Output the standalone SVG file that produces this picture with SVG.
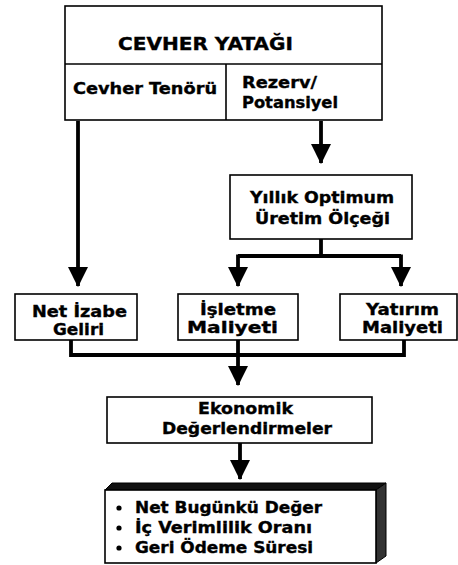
<svg xmlns="http://www.w3.org/2000/svg" width="458" height="565" viewBox="0 0 458 565">
<defs>
<style>
.box{fill:#fff;stroke:#000;stroke-width:1.6}
.t{font-family:"DejaVu Sans","Liberation Sans",sans-serif;font-weight:bold;font-size:15px;fill:#000;stroke:#000;stroke-width:0.35}
.big{font-size:17px}
.c{fill:none;stroke:#000;stroke-width:3.8}
</style>
<marker id="ah" markerUnits="userSpaceOnUse" markerWidth="20" markerHeight="20" refX="17" refY="9" orient="auto" viewBox="0 0 18 18">
<path d="M0,0 L18,9 L0,18 Z" fill="#000"/>
</marker>
</defs>
<rect width="458" height="565" fill="#fff"/>
<g id="connectors">
<line class="c" x1="78" y1="121" x2="78" y2="286" marker-end="url(#ah)"/>
<line class="c" x1="321" y1="121" x2="321" y2="163" marker-end="url(#ah)"/>
<polyline class="c" points="321,239 321,256"/>
<polyline class="c" points="238,256 401,256"/>
<line class="c" x1="238" y1="254.5" x2="238" y2="286" marker-end="url(#ah)"/>
<line class="c" x1="401" y1="254.5" x2="401" y2="286" marker-end="url(#ah)"/>
<polyline class="c" points="71,340 71,355 404,355 404,340"/>
<line class="c" x1="238" y1="340" x2="238" y2="385" marker-end="url(#ah)"/>
<line class="c" x1="240" y1="443" x2="240" y2="479" marker-end="url(#ah)"/>
</g>
<g id="cevher-yatagi">
<rect class="box" x="65" y="6" width="317" height="114"/>
<line stroke="#000" stroke-width="1.6" x1="65" y1="64" x2="382" y2="64"/>
<text class="t big" x="118" y="50" textLength="175" lengthAdjust="spacingAndGlyphs">CEVHER YATAĞI</text>
</g>
<g id="cevher-tenoru">
<line stroke="#000" stroke-width="1.6" x1="226" y1="64" x2="226" y2="120"/>
<text class="t" x="73" y="94" textLength="144" lengthAdjust="spacingAndGlyphs">Cevher Tenörü</text>
</g>
<g id="rezerv">
<text class="t" x="242" y="88" textLength="75" lengthAdjust="spacingAndGlyphs">Rezerv/</text>
<text class="t" x="242" y="108" textLength="96" lengthAdjust="spacingAndGlyphs">Potansiyel</text>
</g>
<g id="yillik">
<rect class="box" x="230" y="175" width="182" height="64"/>
<text class="t" x="250" y="203" textLength="144" lengthAdjust="spacingAndGlyphs">Yıllık Optimum</text>
<text class="t" x="255" y="224" textLength="135" lengthAdjust="spacingAndGlyphs">Üretim Ölçeği</text>
</g>
<g id="net-izabe">
<rect class="box" x="15" y="294" width="122" height="46"/>
<text class="t" x="32" y="317" textLength="95" lengthAdjust="spacingAndGlyphs">Net İzabe</text>
<text class="t" x="53" y="335" textLength="51" lengthAdjust="spacingAndGlyphs">Geliri</text>
</g>
<g id="isletme">
<rect class="box" x="178" y="294" width="120" height="46"/>
<text class="t" x="200" y="315" textLength="76" lengthAdjust="spacingAndGlyphs">İşletme</text>
<text class="t" x="187" y="333" textLength="91" lengthAdjust="spacingAndGlyphs">Maliyeti</text>
</g>
<g id="yatirim">
<rect class="box" x="340" y="294" width="117" height="46"/>
<text class="t" x="366" y="315" textLength="73" lengthAdjust="spacingAndGlyphs">Yatırım</text>
<text class="t" x="362" y="333" textLength="81" lengthAdjust="spacingAndGlyphs">Maliyeti</text>
</g>
<g id="ekonomik">
<rect class="box" x="107" y="397" width="265" height="46"/>
<text class="t" x="198" y="414" textLength="95" lengthAdjust="spacingAndGlyphs">Ekonomik</text>
<text class="t" x="162" y="434" textLength="170" lengthAdjust="spacingAndGlyphs">Değerlendirmeler</text>
</g>
<g id="sonuclar">
<polygon points="105,490 112,483 386,483 376,490" fill="#111" stroke="#000" stroke-width="1"/>
<polygon points="376,490 386,483 386,556 376,563" fill="#333" stroke="#000" stroke-width="1"/>
<rect class="box" x="105" y="490" width="271" height="73"/>
<circle cx="119" cy="508" r="2.6" fill="#000"/>
<circle cx="119" cy="528" r="2.6" fill="#000"/>
<circle cx="119" cy="548" r="2.6" fill="#000"/>
<text class="t" x="135" y="513" textLength="187" lengthAdjust="spacingAndGlyphs">Net Bugünkü Değer</text>
<text class="t" x="135" y="533" textLength="177" lengthAdjust="spacingAndGlyphs">İç Verimlilik Oranı</text>
<text class="t" x="135" y="553" textLength="178" lengthAdjust="spacingAndGlyphs">Geri Ödeme Süresi</text>
</g>
</svg>
